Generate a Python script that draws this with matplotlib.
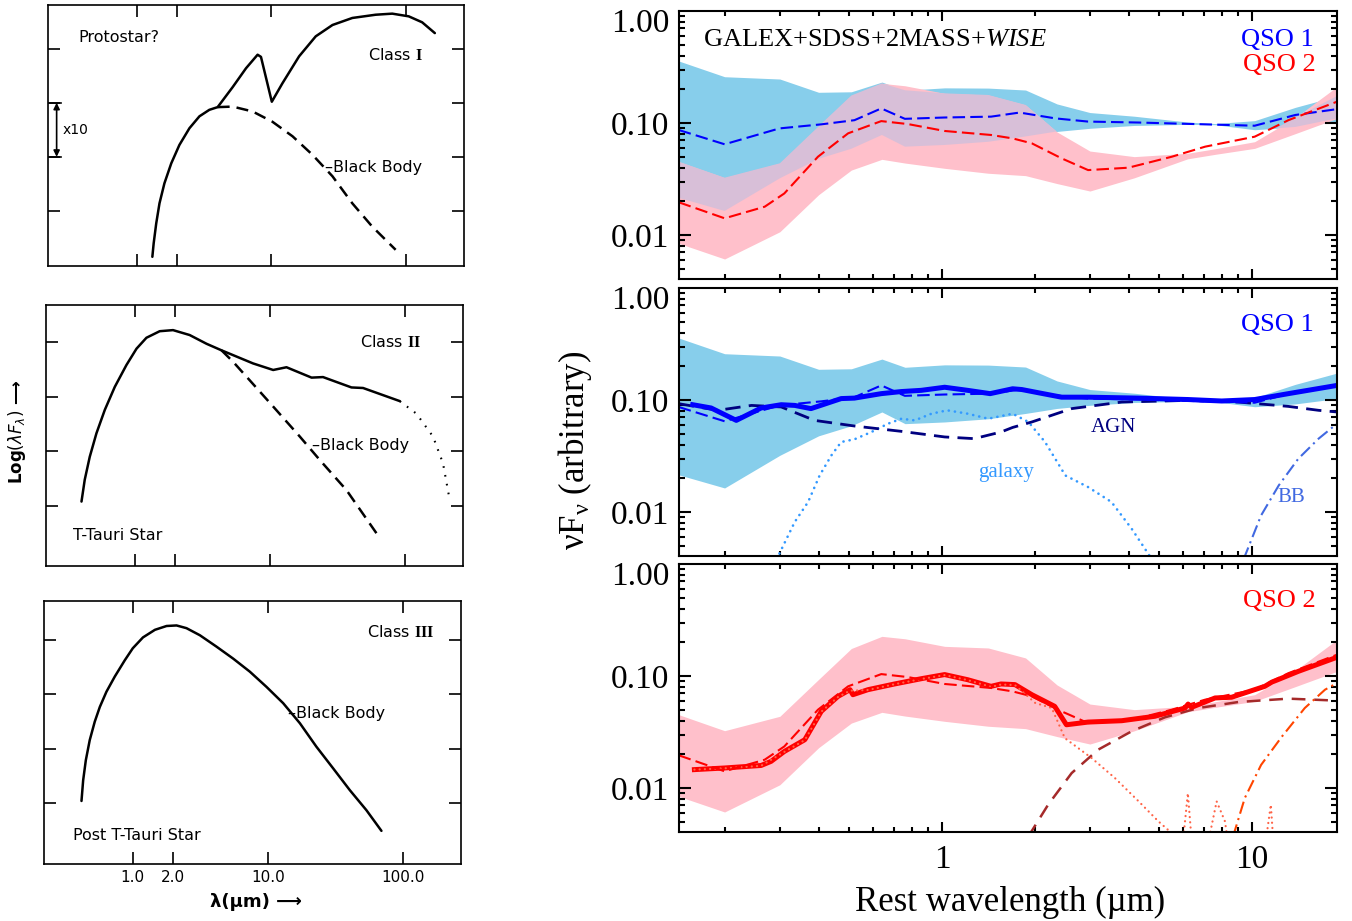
import numpy as np
import matplotlib
matplotlib.use('Agg')
import matplotlib.pyplot as plt
from matplotlib.ticker import LogLocator, NullFormatter, NullLocator, FixedLocator
from matplotlib.transforms import ScaledTranslation

plt.rcParams['font.family'] = ['DejaVu Sans']
plt.rcParams['mathtext.fontset'] = 'custom'
plt.rcParams['mathtext.rm'] = 'Liberation Serif'
plt.rcParams['mathtext.it'] = 'Liberation Serif:italic'
plt.rcParams['mathtext.bf'] = 'Liberation Serif:bold'

SERIF = 'Liberation Serif'

# ---------------- left column: schematic SED classes ----------------
# wavelength in um, flux as log(lambda F_lambda) in decades (arbitrary zero)
class1_wave = [1.31, 1.34, 1.40, 1.48, 1.61, 1.81, 2.08, 2.47, 2.93, 3.47, 4.00, 5.17,
               6.50, 7.92, 8.39, 10.1, 12.1, 16.1, 21.4, 28.5, 40.0, 59.6, 79.2, 105,
               132, 164]
class1_flux = [0.15, 0.40, 0.77, 1.14, 1.51, 1.88, 2.22, 2.53, 2.75, 2.87, 2.92, 3.29,
               3.64, 3.89, 3.85, 3.02, 3.36, 3.86, 4.23, 4.44, 4.57, 4.63, 4.65, 4.60,
               4.49, 4.29]
class1_bb_wave = [4.00, 5.17, 7.27, 10.2, 14.4, 20.2, 28.5, 40.0, 56.2, 83.9]
class1_bb_flux = [2.92, 2.93, 2.84, 2.65, 2.38, 2.04, 1.64, 1.14, 0.71, 0.28]

class2_wave = [0.403, 0.426, 0.464, 0.520, 0.600, 0.711, 0.867, 1.03, 1.22, 1.53, 1.92,
               2.55, 3.40, 4.39, 7.52, 10.6, 13.3, 20.4, 24.8, 40.3, 49.1, 91.8]
class2_flux = [1.08, 1.48, 1.90, 2.33, 2.76, 3.18, 3.58, 3.88, 4.08, 4.20, 4.22,
               4.13, 3.97, 3.85, 3.61, 3.49, 3.54, 3.35, 3.36, 3.17, 3.16, 2.92]
class2_tail_wave = [91.8, 122, 162, 192, 213]
class2_tail_flux = [2.92, 2.69, 2.27, 1.78, 1.17]
class2_bb_wave = [4.39, 5.35, 7.11, 10.6, 16.7, 23.5, 37.0, 61.7]
class2_bb_flux = [3.85, 3.64, 3.30, 2.82, 2.27, 1.84, 1.29, 0.50]

class3_wave = [0.417, 0.429, 0.449, 0.480, 0.523, 0.570, 0.638, 0.736, 0.873, 1.00,
               1.19, 1.46, 1.78, 2.11, 2.50, 3.14, 4.17, 5.54, 7.36, 9.78, 13.0, 17.3,
               22.9, 30.5, 40.5, 53.8, 69.5]
class3_flux = [1.04, 1.42, 1.79, 2.16, 2.50, 2.77, 3.05, 3.33, 3.63, 3.85,
               4.05, 4.19, 4.26, 4.27, 4.22, 4.09, 3.88, 3.66, 3.42, 3.14, 2.84, 2.47,
               2.04, 1.64, 1.24, 0.87, 0.49]

left_ticks = [1.0, 2.0, 10.0, 100.0]
left_tick_labels = ['1.0', '2.0', '10.0', '100.0']

# ---------------- right column: composite QSO SEDs ----------------
band_wave = [0.1415, 0.199, 0.30, 0.40, 0.51, 0.64, 0.76, 1.02, 1.41, 1.86, 2.35,
             3.0, 4.17, 6.2, 7.6, 10.2, 13.8, 18.8]
qso1_hi = [0.358, 0.259, 0.247, 0.188, 0.190, 0.232, 0.196, 0.206, 0.205, 0.197, 0.148,
           0.124, 0.115, 0.102, 0.0989, 0.105, 0.138, 0.174]
qso1_lo = [0.0215, 0.0164, 0.0321, 0.0479, 0.0589, 0.0782, 0.0615, 0.0637, 0.068, 0.0759,
           0.0841, 0.0897, 0.0951, 0.0973, 0.0966, 0.0871, 0.0923, 0.103]
qso2_hi = [0.0452, 0.0325, 0.0437, 0.0933, 0.176, 0.226, 0.215, 0.184, 0.178, 0.145,
           0.0832, 0.0562, 0.0501, 0.0537, 0.0589, 0.0681, 0.112, 0.211]
qso2_lo = [0.00843, 0.00611, 0.0107, 0.0229, 0.0380, 0.0474, 0.0439, 0.0394, 0.0356,
           0.0339, 0.0288, 0.0247, 0.0324, 0.0479, 0.0525, 0.0594, 0.0804, 0.110]

qso1_med_wave = [0.1416, 0.199, 0.299, 0.408, 0.522, 0.637, 0.759, 1.02, 1.44, 1.78,
                 2.32, 2.96, 4.31, 7.06, 10.2, 13.8, 18.8]
qso1_med = [0.0866, 0.0646, 0.0895, 0.0973, 0.106, 0.135, 0.109, 0.112, 0.114, 0.124,
            0.110, 0.103, 0.101, 0.0973, 0.0946, 0.118, 0.133]
qso2_med_wave = [0.1416, 0.199, 0.268, 0.310, 0.398, 0.498, 0.637, 0.776, 1.02, 1.44,
                 1.69, 1.95, 2.43, 2.96, 3.99, 5.51, 7.06, 10.2, 13.1, 18.8]
qso2_med = [0.0196, 0.0141, 0.0179, 0.0235, 0.0500, 0.0809, 0.104, 0.0979, 0.0849,
            0.0782, 0.0729, 0.0658, 0.0484, 0.0380, 0.0399, 0.0500, 0.0615, 0.0755,
            0.106, 0.155]

qso1_fit_wave = [0.157, 0.180, 0.217, 0.261, 0.303, 0.335, 0.378, 0.473, 0.522, 0.637,
                 0.740, 0.857, 1.02, 1.21, 1.43, 1.69, 1.81, 2.05, 2.43, 2.96, 4.31,
                 6.22, 7.98, 10.2, 13.1, 18.8]
qso1_fit = [0.0908, 0.0849, 0.0658, 0.0849, 0.0908, 0.0895, 0.0838, 0.103, 0.104, 0.114,
            0.119, 0.122, 0.130, 0.122, 0.114, 0.126, 0.124, 0.116, 0.106, 0.106, 0.104,
            0.101, 0.098, 0.101, 0.114, 0.135]
qso1_agn_wave = [0.1416, 0.189, 0.243, 0.303, 0.388, 0.522, 0.740, 1.02, 1.27, 1.55,
                 1.69, 1.95, 2.62, 3.80, 6.22, 9.04, 13.1, 16.4, 18.8]
qso1_agn = [0.0927, 0.0809, 0.0895, 0.0867, 0.0658, 0.0586, 0.0525, 0.0468, 0.0452,
            0.0518, 0.0569, 0.0637, 0.0838, 0.0959, 0.0993, 0.0959, 0.0877, 0.0809, 0.0782]
qso1_gal_wave = [0.293, 0.335, 0.370, 0.403, 0.440, 0.473, 0.522, 0.592, 0.670, 0.740,
                 0.817, 0.925, 1.04, 1.21, 1.41, 1.69, 1.90, 2.15, 2.50, 2.96, 3.52,
                 4.09, 4.75]
qso1_gal = [0.0038, 0.00815, 0.0123, 0.0212, 0.0321, 0.0422, 0.0446, 0.0518, 0.0615,
            0.0681, 0.0658, 0.0755, 0.0809, 0.0755, 0.0681, 0.0755, 0.0637, 0.0422,
            0.0212, 0.0167, 0.0123, 0.0071, 0.0038]
qso1_bb_wave = [9.4, 10.7, 12.2, 14.1, 16.4, 18.8]
qso1_bb = [0.0038, 0.00933, 0.0173, 0.0299, 0.0452, 0.0615]

qso2_fit_wave = [0.159, 0.199, 0.261, 0.281, 0.310, 0.361, 0.408, 0.462, 0.505, 0.516,
                 0.577, 0.703, 0.857, 1.02, 1.21, 1.44, 1.55, 1.72, 1.95, 2.31, 2.52,
                 2.96, 3.80, 4.86, 6.08, 6.22, 6.38, 7.60, 8.59, 11.0, 11.6, 14.1, 18.8]
qso2_fit = [0.0146, 0.0151, 0.0159, 0.0173, 0.0212, 0.0270, 0.0484, 0.0658, 0.0755,
            0.0681, 0.0755, 0.0849, 0.0946, 0.103, 0.0927, 0.0809, 0.0849, 0.0838,
            0.0681, 0.0536, 0.0367, 0.0388, 0.0399, 0.0437, 0.0518, 0.0562, 0.0525,
            0.0637, 0.0646, 0.0809, 0.0883, 0.110, 0.147]
qso2_gal_wave = [0.159, 0.199, 0.261, 0.310, 0.361, 0.408, 0.462, 0.505, 0.577, 0.703,
                 0.857, 1.02, 1.21, 1.44, 1.55, 1.72, 2.0, 2.26, 2.49, 3.04, 3.61, 4.31,
                 4.99, 5.6, 6.0, 6.21, 6.38, 7.26, 7.69, 8.18, 8.34, 11.1, 11.5, 11.7]
qso2_gal = [0.0146, 0.0150, 0.0158, 0.0210, 0.0268, 0.0480, 0.0650, 0.0740, 0.0750,
            0.0845, 0.094, 0.102, 0.092, 0.080, 0.084, 0.083, 0.0574, 0.0518, 0.0279,
            0.0185, 0.0123, 0.0076, 0.00504, 0.0038, 0.0035, 0.0090, 0.0035, 0.0035,
            0.0076, 0.00504, 0.0035, 0.0035, 0.0071, 0.0035]
qso2_agn_wave = [1.90, 2.20, 2.62, 3.19, 4.09, 5.24, 6.71, 9.04, 13.1, 18.8]
qso2_agn = [0.0037, 0.0071, 0.0136, 0.0220, 0.0321, 0.0428, 0.0518, 0.0586, 0.0628, 0.0603]
qso2_bb_wave = [8.69, 9.48, 10.7, 12.5, 14.8, 17.2, 18.8]
qso2_bb = [0.0037, 0.00815, 0.0161, 0.0289, 0.0518, 0.0755, 0.0866]

SKY = '#87CEEB'
PINK = '#FFC0CB'
OVERLAP = '#D8BFD8'

fig = plt.figure(figsize=(13.52, 9.21), dpi=100)
W, H = 1352.0, 921.0


def px_axes(x0, y0, x1, y1):
    return fig.add_axes([x0 / W, 1 - y1 / H, (x1 - x0) / W, (y1 - y0) / H])


# ---------- left column ----------
def style_left(ax, ylim, labels):
    ax.set_xscale('log')
    ax.set_xlim(0.22, 270)
    ax.set_ylim(*ylim)
    ax.xaxis.set_major_locator(FixedLocator(left_ticks))
    ax.xaxis.set_minor_locator(NullLocator())
    ax.set_yticks([1, 2, 3, 4])
    ax.tick_params(direction='in', length=8.5, width=1.2, top=True, right=True,
                   labelleft=False, labelbottom=labels, pad=4)
    if labels:
        ax.set_xticklabels(left_tick_labels, fontsize=11)
    for sp in ax.spines.values():
        sp.set_linewidth(1.2)


txt = dict(fontsize=11.5, va='center', ha='left')
bb_dash = (4.8, 2.8)
line_kw = dict(color='k', lw=1.8, solid_joinstyle='round', solid_capstyle='round')

ax1 = px_axes(48, 5, 464, 266)
style_left(ax1, (-0.02, 4.81), False)
ax1.plot(class1_wave, class1_flux, **line_kw)
ax1.plot(class1_bb_wave, class1_bb_flux, color='k', lw=1.8, dashes=bb_dash)
ax1.text(0.072, 0.877, 'Protostar?', transform=ax1.transAxes, **txt)
ax1.text(0.769, 0.808, r'Class $\mathbf{I}$', transform=ax1.transAxes, **txt)
ax1.text(0.665, 0.379, '–Black Body', transform=ax1.transAxes, **txt)
ax1.text(0.036, 0.521, 'x10', transform=ax1.transAxes, fontsize=10, va='center')
arrow_x, cap_x = 0.255, (0.227, 0.273)
ax1.annotate('', xy=(arrow_x, 3.0), xytext=(arrow_x, 2.0),
             arrowprops=dict(arrowstyle='<|-|>', lw=1.2, color='k', mutation_scale=9,
                             shrinkA=0, shrinkB=0))
for yc in (2.0, 3.0):
    ax1.plot(cap_x, (yc, yc), color='k', lw=1.2)

ax2 = px_axes(46, 305, 463, 566)
style_left(ax2, (-0.10, 4.68), False)
ax2.plot(class2_wave, class2_flux, **line_kw)
ax2.plot(class2_tail_wave, class2_tail_flux, color='k', lw=1.5, dashes=(0.8, 3.5))
ax2.plot(class2_bb_wave, class2_bb_flux, color='k', lw=1.8, dashes=bb_dash)
ax2.text(0.753, 0.858, r'Class $\mathbf{II}$', transform=ax2.transAxes, **txt)
ax2.text(0.638, 0.460, '–Black Body', transform=ax2.transAxes, **txt)
ax2.text(0.065, 0.115, 'T-Tauri Star', transform=ax2.transAxes, **txt)

ax3 = px_axes(44, 601, 461, 864)
style_left(ax3, (-0.12, 4.72), True)
ax3.plot(class3_wave, class3_flux, **line_kw)
ax3.text(0.775, 0.882, r'Class $\mathbf{III}$', transform=ax3.transAxes, **txt)
ax3.text(0.585, 0.574, '–Black Body', transform=ax3.transAxes, **txt)
ax3.text(0.070, 0.110, 'Post T-Tauri Star', transform=ax3.transAxes, **txt)

fig.text(17 / W, 1 - 432 / H, r'Log$(\lambda F_\lambda)$ ⟶', rotation=90, ha='center',
         va='center', fontsize=12, fontweight='bold', math_fontfamily='dejavusans')
fig.text(256 / W, 1 - 902 / H, 'λ(μm) ⟶', ha='center', va='center', fontsize=13,
         fontweight='bold')


# ---------- right column ----------
def style_right(ax, xlabels):
    ax.set_xscale('log')
    ax.set_yscale('log')
    ax.set_xlim(0.1415, 18.8)
    ax.set_ylim(0.00405, 1.0)
    ax.xaxis.set_major_locator(FixedLocator([1, 10]))
    ax.xaxis.set_minor_locator(LogLocator(base=10, subs=np.arange(2, 10), numticks=20))
    ax.xaxis.set_minor_formatter(NullFormatter())
    ax.yaxis.set_major_locator(FixedLocator([0.01, 0.1]))
    ax.yaxis.set_minor_locator(LogLocator(base=10, subs=np.arange(2, 10), numticks=20))
    ax.yaxis.set_minor_formatter(NullFormatter())
    ax.tick_params(which='both', direction='in', top=True, right=True, width=1.5)
    ax.tick_params(axis='y', which='major', length=8.5, pad=7)
    ax.tick_params(axis='y', which='minor', length=4.5)
    ax.tick_params(axis='x', which='major', length=7, pad=9, labelbottom=xlabels)
    ax.tick_params(axis='x', which='minor', length=3.5)
    ax.set_yticklabels(['0.01', '0.10'], fontfamily=SERIF, fontsize=24)
    if xlabels:
        ax.set_xticklabels(['1', '10'], fontfamily=SERIF, fontsize=24)
    off = ScaledTranslation(-0.097, -0.09, fig.dpi_scale_trans)
    ax.text(0, 1.0, '1.00', transform=ax.get_yaxis_transform() + off, ha='right',
            va='center_baseline', fontfamily=SERIF, fontsize=24)
    for sp in ax.spines.values():
        sp.set_linewidth(1.5)


med_dash = (6, 2.5)
dot = dict(dashes=(0.05, 2.3), dash_capstyle='round')
dashdot = (6, 2.2, 1, 2.2)
serif_txt = dict(fontfamily=SERIF, va='center')

ra1 = px_axes(678.7, 11, 1337, 279)
style_right(ra1, False)
ra1.fill_between(band_wave, qso1_lo, qso1_hi, color=SKY, lw=0)
ra1.fill_between(band_wave, qso2_lo, qso2_hi, color=PINK, lw=0)
ov_lo = np.maximum(qso1_lo, qso2_lo)
ov_hi = np.minimum(qso1_hi, qso2_hi)
ra1.fill_between(band_wave, ov_lo, ov_hi, where=ov_hi > ov_lo, interpolate=True,
                 color=OVERLAP, lw=0)
ra1.plot(qso1_med_wave, qso1_med, color='#0000FF', lw=1.5, dashes=med_dash)
ra1.plot(qso2_med_wave, qso2_med, color='#FF0000', lw=1.5, dashes=med_dash)
ra1.text(0.037, 0.892, r'GALEX+SDSS+2MASS+$\mathit{WISE}$', transform=ra1.transAxes,
         fontsize=19, ha='left', **serif_txt)
ra1.text(0.964, 0.892, 'QSO 1', color='#0000FF', transform=ra1.transAxes, fontsize=19,
         ha='right', **serif_txt)
ra1.text(0.967, 0.7985, 'QSO 2', color='#FF0000', transform=ra1.transAxes, fontsize=19,
         ha='right', **serif_txt)

ra2 = px_axes(678.7, 288, 1337, 556)
style_right(ra2, False)
ra2.fill_between(band_wave, qso1_lo, qso1_hi, color=SKY, lw=0)
ra2.plot(qso1_gal_wave, qso1_gal, color='#3399FF', lw=1.9, **dot)
ra2.plot(qso1_bb_wave, qso1_bb, color='#4169E1', lw=1.5, dashes=dashdot)
ra2.plot(qso1_agn_wave, qso1_agn, color='#000080', lw=2.0, dashes=(5.5, 3))
ra2.plot(qso1_fit_wave, qso1_fit, color='#0000FF', lw=3.6, solid_joinstyle='round')
ra2.plot(qso1_med_wave, qso1_med, color='#0000FF', lw=1.5, dashes=med_dash)
ra2.text(0.964, 0.862, 'QSO 1', color='#0000FF', transform=ra2.transAxes, fontsize=19,
         ha='right', **serif_txt)
ra2.text(0.661, 0.481, 'AGN', color='#000080', transform=ra2.transAxes, fontsize=15,
         ha='center', **serif_txt)
ra2.text(0.497, 0.313, 'galaxy', color='#3399FF', transform=ra2.transAxes, fontsize=15,
         ha='center', **serif_txt)
ra2.text(0.931, 0.220, 'BB', color='#4169E1', transform=ra2.transAxes, fontsize=15,
         ha='center', **serif_txt)

ra3 = px_axes(678.7, 564, 1337, 832)
style_right(ra3, True)
ra3.fill_between(band_wave, qso2_lo, qso2_hi, color=PINK, lw=0)
ra3.plot(qso2_agn_wave, qso2_agn, color='#A52A2A', lw=1.8, dashes=(5.5, 3.5))
ra3.plot(qso2_bb_wave, qso2_bb, color='#FF4500', lw=1.5, dashes=dashdot)
ra3.plot(qso2_fit_wave, qso2_fit, color='#FF0000', lw=3.6, solid_joinstyle='round')
ra3.plot(qso2_gal_wave, qso2_gal, color='#FF6347', lw=1.6, **dot)
ra3.plot(qso2_med_wave, qso2_med, color='#FF0000', lw=1.5, dashes=med_dash)
ra3.text(0.967, 0.862, 'QSO 2', color='#FF0000', transform=ra3.transAxes, fontsize=19,
         ha='right', **serif_txt)

fig.text(575 / W, 1 - 450 / H, r'$\mathrm{\nu F_\nu}$ (arbitrary)', rotation=90,
         ha='center', va='center', fontfamily=SERIF, fontsize=25)
fig.text(1010 / W, 1 - 911 / H, 'Rest wavelength (µm)', ha='center', va='baseline',
         fontfamily=SERIF, fontsize=25)

fig.savefig('out.png', dpi=100)
